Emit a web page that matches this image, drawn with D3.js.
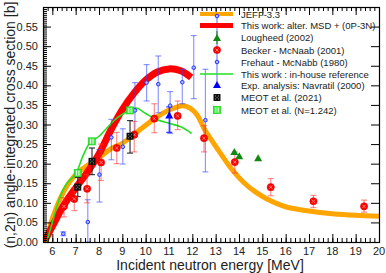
<!DOCTYPE html>
<html><head><meta charset="utf-8">
<script src="https://cdn.jsdelivr.net/npm/d3@7"></script>
<style>body{margin:0;background:#fff}svg{display:block}text{font-family:"Liberation Sans",Arial,sans-serif}</style>
</head><body>
<svg id="c" width="386" height="273"></svg>
<script>
// ---- data ----
const jeffE = [5.72,6.0,6.5,7.0,7.5,8.0,8.5,9.0,9.5,10.0,10.5,11.0,11.3,11.6,11.9,12.2,12.5,12.8,13.2,13.7,14.2,14.7,15.2,16.0,17.0,18.0,19.0,20.0];
const jeffS = [0,0.06,0.13,0.172,0.195,0.215,0.238,0.252,0.275,0.298,0.32,0.337,0.344,0.348,0.342,0.325,0.29,0.262,0.227,0.185,0.152,0.128,0.11,0.09,0.079,0.072,0.068,0.066];
const workE = [5.65,6.0,6.5,7.0,7.5,8.0,8.5,9.0,9.5,10.0,10.5,11.0,11.5,11.95];
const workS = [0,0.04,0.095,0.138,0.178,0.225,0.285,0.338,0.38,0.413,0.434,0.442,0.437,0.42];
const refE = [5.76,6.0,6.3,6.6,7.0,7.3,7.6,8.0,8.4,8.8,9.3,9.6,10.0,10.5,11.0,11.5,11.97];
const refS = [0,0.05,0.11,0.148,0.174,0.218,0.252,0.27,0.295,0.318,0.336,0.342,0.328,0.312,0.303,0.294,0.277];
// Becker - McNaab (2001): E, sigma, low, high
const beckerE  = [6.5,6.94,7.49,8.09,8.76,9.51,10.37,11.37,12.5,13.82,15.36,17.19,19.36];
const beckerS  = [0.091,0.110,0.136,0.203,0.240,0.274,0.315,0.322,0.265,0.204,0.140,0.104,0.091];
const beckerLo = [0.064,0.080,0.100,0.157,0.200,0.230,0.279,0.287,0.230,0.176,0.118,0.088,0.076];
const beckerHi = [0.113,0.138,0.172,0.250,0.280,0.308,0.353,0.360,0.297,0.230,0.162,0.119,0.107];
// Frehaut - McNabb (1980)
const frehautE  = [6.47,7.52,8.02,8.53,9.02,9.54,10.04,10.54,11.05,11.57,12.06,12.56];
const frehautS  = [0.021,0.051,0.172,0.267,0.243,0.336,0.407,0.403,0.348,0.408,0.445,0.311];
const frehautLo = [0.016,0.0,0.102,0.210,0.199,0.270,0.360,0.330,0.277,0.353,0.366,0.179];
const frehautHi = [0.026,0.108,0.236,0.313,0.289,0.407,0.453,0.475,0.384,0.441,0.527,0.441];
// Lougheed (2002)
const lougheedE = [13.8,14.01,14.82];
const lougheedS = [0.230,0.219,0.214];
// Navratil (2000)
const navratilE = [11.01];
const navratilS = [0.323];
const navratilLo = [0.280];
const navratilHi = [0.345];
// MEOT et al. (2021)
const meotE  = [7.09,7.70,9.33];
const meotS  = [0.140,0.206,0.270];
const meotLo = [0.116,0.172,0.227];
const meotHi = [0.165,0.240,0.310];
// MEOT et al. (N=1.242)
const meotNE = [7.09,7.69,9.33];
const meotNS = [0.176,0.257,0.336];
const xTicks = [6,7,8,9,10,11,12,13,14,15,16,17,18,19,20];
const yTicks = [0,0.05,0.10,0.15,0.20,0.25,0.30,0.35,0.40,0.45,0.50,0.55];
const legendLabels = ["JEFF-3.3","This work: alter. MSD + (0P-3N)","Lougheed  (2002)","Becker - McNaab (2001)","Frehaut - McNabb (1980)","This work : in-house reference","Exp. analysis: Navratil (2000)","MEOT et al. (2021)","MEOT et al. (N=1.242)"];

// ---- chart ----
const svg = d3.select("#c");
const L=43,R=379,T=7,B=242;
const x = d3.scaleLinear().domain([5.6,20]).range([L,R]);
const y = d3.scaleLinear().domain([0,0.6]).range([B,T]);
svg.append("defs").append("clipPath").attr("id","pc").append("rect").attr("x",L).attr("y",T).attr("width",R-L).attr("height",B-T);
const g = svg.append("g").attr("clip-path","url(#pc)");
const line = d3.line().x(d=>x(d[0])).y(d=>y(d[1])).curve(d3.curveCatmullRom);

function errs(E,S,Lo,Hi,color,op,cap){
  E.forEach((e,i)=>{
    const xx=x(e);
    g.append("line").attr("x1",xx).attr("x2",xx).attr("y1",y(Lo[i])).attr("y2",y(Hi[i])).attr("stroke",color).attr("stroke-opacity",op).attr("stroke-width",1.2);
    [Lo[i],Hi[i]].forEach(v=>g.append("line").attr("x1",xx-cap).attr("x2",xx+cap).attr("y1",y(v)).attr("y2",y(v)).attr("stroke",color).attr("stroke-opacity",op).attr("stroke-width",1.2));
  });
}
g.append("path").attr("d",line(jeffE.map((e,i)=>[e,jeffS[i]]))).attr("fill","none").attr("stroke","#ffa500").attr("stroke-width",5);
g.append("path").attr("d",line(workE.map((e,i)=>[e,workS[i]]))).attr("fill","none").attr("stroke","#ff0000").attr("stroke-width",7);
g.append("path").attr("d",line(refE.map((e,i)=>[e,refS[i]]))).attr("fill","none").attr("stroke","#22e022").attr("stroke-width",1.6);

errs(frehautE,frehautS,frehautLo,frehautHi,"#3344ff",0.55,3);
errs(beckerE,beckerS,beckerLo,beckerHi,"#ff3333",0.55,3);
errs(navratilE,navratilS,navratilLo,navratilHi,"#0000ff",0.8,3);
errs(meotE,meotS,meotLo,meotHi,"#222",0.9,3);

function circleBecker(sel,cx,cy){
  sel.append("circle").attr("cx",cx).attr("cy",cy).attr("r",3.6).attr("fill","#ff0000").attr("stroke","#e00000").attr("stroke-width",0.6);
  sel.append("path").attr("d",`M${cx-1.6},${cy-1.6}L${cx+1.6},${cy+1.6}M${cx-1.6},${cy+1.6}L${cx+1.6},${cy-1.6}`).attr("stroke","#ff9a9a").attr("stroke-width",0.8);
}
function circleFrehaut(sel,cx,cy){
  sel.append("circle").attr("cx",cx).attr("cy",cy).attr("r",1.8).attr("fill","#aab4ff").attr("stroke","#2233ff").attr("stroke-width",1);
}
function tri(sel,cx,cy,color){
  sel.append("path").attr("d",`M${cx},${cy-4}L${cx+4},${cy+3}L${cx-4},${cy+3}Z`).attr("fill",color);
}
function sqMeot(sel,cx,cy){
  sel.append("rect").attr("x",cx-3.5).attr("y",cy-3.5).attr("width",7).attr("height",7).attr("fill","#111");
  [[-1.5,-1.5],[1.5,-1.5],[0,0],[-1.5,1.5],[1.5,1.5]].forEach(p=>sel.append("rect").attr("x",cx+p[0]-0.5).attr("y",cy+p[1]-0.5).attr("width",1).attr("height",1).attr("fill","#888"));
}
function sqMeotN(sel,cx,cy){
  sel.append("rect").attr("x",cx-3.5).attr("y",cy-3.5).attr("width",7).attr("height",7).attr("fill","#44ee44").attr("stroke","#22cc22").attr("stroke-width",0.8);
  [-1.2,1.2].forEach(dx=>sel.append("line").attr("x1",cx+dx).attr("x2",cx+dx).attr("y1",cy-2.5).attr("y2",cy+2.5).attr("stroke","#fff").attr("stroke-width",0.9));
}
frehautE.forEach((e,i)=>circleFrehaut(g,x(e),y(frehautS[i])));
beckerE.forEach((e,i)=>circleBecker(g,x(e),y(beckerS[i])));
lougheedE.forEach((e,i)=>tri(g,x(e),y(lougheedS[i]),"#118811"));
navratilE.forEach((e,i)=>tri(g,x(e),y(navratilS[i]),"#0000ff"));
meotE.forEach((e,i)=>sqMeot(g,x(e),y(meotS[i])));
meotNE.forEach((e,i)=>sqMeotN(g,x(e),y(meotNS[i])));

// ---- axes (ROOT-style inward ticks) ----
const xMinor = d3.range(5.6,20.0001,0.2).map(v=>+v.toFixed(2));
const yMinor = d3.range(0,0.6001,0.005).map(v=>+v.toFixed(3));
const axisG = svg.append("g").attr("stroke","#000").attr("stroke-width",1);
xMinor.forEach(v=>{ const xx=x(v)+0.5;
  axisG.append("line").attr("x1",xx).attr("x2",xx).attr("y1",B).attr("y2",B-4);
  axisG.append("line").attr("x1",xx).attr("x2",xx).attr("y1",T).attr("y2",T+4);});
xTicks.forEach(v=>{ const xx=x(v)+0.5;
  axisG.append("line").attr("x1",xx).attr("x2",xx).attr("y1",B).attr("y2",B-8);
  axisG.append("line").attr("x1",xx).attr("x2",xx).attr("y1",T).attr("y2",T+8);});
yMinor.forEach(v=>{ const yy=y(v)+0.5;
  axisG.append("line").attr("x1",L).attr("x2",L+4).attr("y1",yy).attr("y2",yy);});
yTicks.forEach(v=>{ const yy=y(v)+0.5;
  axisG.append("line").attr("x1",L).attr("x2",L+8).attr("y1",yy).attr("y2",yy);
  axisG.append("line").attr("x1",R).attr("x2",R-8).attr("y1",yy).attr("y2",yy);});
svg.append("rect").attr("x",L+0.5).attr("y",T+0.5).attr("width",R-L).attr("height",B-T).attr("fill","none").attr("stroke","#000").attr("stroke-width",1.2);

const fmt = d3.format(".2f");
svg.append("g").selectAll("text").data(xTicks).join("text").attr("x",d=>x(d)).attr("y",255).attr("text-anchor","middle").attr("font-size",11).attr("fill","#222").text(d=>d);
svg.append("g").selectAll("text").data(yTicks).join("text").attr("x",38).attr("y",d=>y(d)+4).attr("text-anchor","end").attr("font-size",11).attr("fill","#222").text(d=>fmt(d));
svg.append("text").attr("x",210).attr("y",270).attr("text-anchor","middle").attr("font-size",14).attr("fill","#222").text("Incident neutron energy [MeV]");
svg.append("text").attr("transform","translate(15,125) rotate(-90)").attr("text-anchor","middle").attr("font-size",14).attr("fill","#222").text("(n,2n) angle-integrated cross section [b]");

// ---- legend ----
const lg = svg.append("g");
const rowY = [14,25.5,37.5,50,62,74,85,97.5,110];
const lx = 217;
lg.append("line").attr("x1",lx).attr("x2",lx).attr("y1",16).attr("y2",84).attr("stroke","#3344ff").attr("stroke-opacity",0.8).attr("stroke-width",1);
lg.append("line").attr("x1",200).attr("x2",233).attr("y1",rowY[0]).attr("y2",rowY[0]).attr("stroke","#ffa500").attr("stroke-width",4);
lg.append("line").attr("x1",200).attr("x2",233).attr("y1",rowY[1]).attr("y2",rowY[1]).attr("stroke","#ff0000").attr("stroke-width",5);
lg.append("line").attr("x1",lx).attr("x2",lx).attr("y1",31).attr("y2",44).attr("stroke","#118811").attr("stroke-width",1);
tri(lg,lx,rowY[2]+0.5,"#118811");
circleBecker(lg,lx,rowY[3]);
circleFrehaut(lg,lx,16);
circleFrehaut(lg,lx,rowY[4]);
lg.append("line").attr("x1",200).attr("x2",233).attr("y1",rowY[5]).attr("y2",rowY[5]).attr("stroke","#22e022").attr("stroke-width",1.6);
tri(lg,lx,rowY[6],"#0000ff");
sqMeot(lg,lx,rowY[7]);
sqMeotN(lg,lx,rowY[8]);
lg.selectAll("text").data(legendLabels).join("text").attr("x",241).attr("y",(d,i)=>rowY[i]+3.5).attr("font-size",9.5).attr("fill","#222").text(d=>d);
</script>
</body></html>
